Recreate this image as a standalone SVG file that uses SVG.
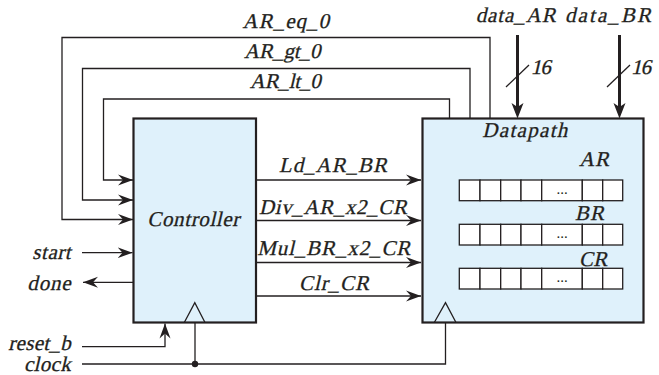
<svg xmlns="http://www.w3.org/2000/svg" width="659" height="375" viewBox="0 0 659 375">
<style>
  text { font-family: "Liberation Serif", "Times New Roman", serif; font-style: normal; font-size: 21px; fill: #231f20; stroke: #231f20; stroke-width: 0.3; }
  .box { fill: #dff1fb; stroke: #231f20; stroke-width: 2.2; }
  .w { fill: none; stroke: #231f20; stroke-width: 1.3; }
  .bus { fill: none; stroke: #231f20; stroke-width: 3; }
  .cell { fill: #ffffff; stroke: #231f20; stroke-width: 1.3; }
  .clk { fill: none; stroke: #231f20; stroke-width: 1.3; }
  .dots { font-size: 15px; stroke-width: 0; }
</style>
<defs>
  <marker id="ah" markerWidth="16" markerHeight="12" refX="15" refY="6" orient="auto" markerUnits="userSpaceOnUse">
    <path d="M0,0.5 L15,6 L0,11.5 L5,6 z" fill="#231f20"/>
  </marker>
</defs>

<g id="connectors">
  <path class="w" d="M490,118.5 V37.5 H62 V219.5 H133" marker-end="url(#ah)"/>
  <path class="w" d="M470,118.5 V68.5 H82.5 V200 H133" marker-end="url(#ah)"/>
  <path class="w" d="M449.5,118.5 V99 H103.5 V180 H133" marker-end="url(#ah)"/>
  <path class="w" d="M256,180 H421" marker-end="url(#ah)"/>
  <path class="w" d="M256,220.5 H421" marker-end="url(#ah)"/>
  <path class="w" d="M256,262.5 H421" marker-end="url(#ah)"/>
  <path class="w" d="M256,296 H421" marker-end="url(#ah)"/>
  <path class="w" d="M82,252.7 H132.5" marker-end="url(#ah)"/>
  <path class="w" d="M133,282.3 H83" marker-end="url(#ah)"/>
  <path class="w" d="M82,346.7 H165 V323.5" marker-end="url(#ah)"/>
  <path class="w" d="M82,364 H445.5 V322.5"/>
  <path class="w" d="M195,364 V322.5"/>
  <circle cx="195" cy="364" r="3.2" fill="#231f20"/>
  <path class="bus" d="M517.5,35 V110"/>
  <path d="M511.5,103 L517.5,118.5 L523.5,103 L517.5,107 z" fill="#231f20"/>
  <path class="bus" d="M619.5,35 V110"/>
  <path d="M613.5,103 L619.5,118.5 L625.5,103 L619.5,107 z" fill="#231f20"/>
  <path class="w" d="M506,87 L529,65"/>
  <path class="w" d="M607,87 L630,65"/>
  <text transform="translate(242.5,28) skewX(-13)" textLength="86.5" lengthAdjust="spacing">AR_eq_0</text>
  <text transform="translate(244,58.3) skewX(-13)" textLength="76.5" lengthAdjust="spacing">AR_gt_0</text>
  <text transform="translate(249.7,88.3) skewX(-13)" textLength="71" lengthAdjust="spacing">AR_lt_0</text>
  <text transform="translate(475.7,21.7) skewX(-13)" textLength="80" lengthAdjust="spacing">data_AR</text>
  <text transform="translate(565,21.7) skewX(-13)" textLength="86" lengthAdjust="spacing">data_BR</text>
  <text transform="translate(530.7,74) skewX(-13)" textLength="20" lengthAdjust="spacing">16</text>
  <text transform="translate(631,74) skewX(-13)" textLength="20" lengthAdjust="spacing">16</text>
  <text transform="translate(279,172) skewX(-13)" textLength="108" lengthAdjust="spacing">Ld_AR_BR</text>
  <text transform="translate(259,213.5) skewX(-13)" textLength="148" lengthAdjust="spacing">Div_AR_x2_CR</text>
  <text transform="translate(257.3,255) skewX(-13)" textLength="153" lengthAdjust="spacing">Mul_BR_x2_CR</text>
  <text transform="translate(299,289.5) skewX(-13)" textLength="70" lengthAdjust="spacing">Clr_CR</text>
  <text transform="translate(32.3,258.5) skewX(-13)" textLength="38.4" lengthAdjust="spacing">start</text>
  <text transform="translate(27.3,289.5) skewX(-13)" textLength="43.4" lengthAdjust="spacing">done</text>
  <text transform="translate(8.3,349.5) skewX(-13)" textLength="62.4" lengthAdjust="spacing">reset_b</text>
  <text transform="translate(24,371) skewX(-13)" textLength="46.7" lengthAdjust="spacing">clock</text>
</g>

<g id="controller">
  <rect class="box" x="133.5" y="118.5" width="122.5" height="204"/>
  <path class="clk" d="M184.3,322.5 L194.8,302.7 L205,322.5"/>
  <text transform="translate(147.3,226) skewX(-13)" textLength="92" lengthAdjust="spacing">Controller</text>
</g>

<g id="datapath">
  <rect class="box" x="422.5" y="118.5" width="221" height="204"/>
  <path class="clk" d="M434.3,322.5 L445.5,302.7 L456,322.5"/>
  <text transform="translate(482.3,137.3) skewX(-13)" textLength="85" lengthAdjust="spacing">Datapath</text>
  <text transform="translate(579,166) skewX(-13)" textLength="30" lengthAdjust="spacing">AR</text>
  <text transform="translate(575,220) skewX(-13)" textLength="29" lengthAdjust="spacing">BR</text>
  <text transform="translate(579,265.7) skewX(-13)" textLength="28.3" lengthAdjust="spacing">CR</text>
  <g id="reg_AR">
    <rect class="cell" x="459.3" y="180" width="20.7" height="20.7"/>
    <rect class="cell" x="480" y="180" width="20.7" height="20.7"/>
    <rect class="cell" x="500.7" y="180" width="20.3" height="20.7"/>
    <rect class="cell" x="521" y="180" width="20.7" height="20.7"/>
    <rect class="cell" x="541.7" y="180" width="40.6" height="20.7"/>
    <rect class="cell" x="582.3" y="180" width="20.4" height="20.7"/>
    <rect class="cell" x="602.7" y="180" width="20" height="20.7"/>
    <text class="dots" x="562" y="194" text-anchor="middle">...</text>
  </g>
  <g id="reg_BR">
    <rect class="cell" x="459.3" y="224.3" width="20.7" height="20.7"/>
    <rect class="cell" x="480" y="224.3" width="20.7" height="20.7"/>
    <rect class="cell" x="500.7" y="224.3" width="20.3" height="20.7"/>
    <rect class="cell" x="521" y="224.3" width="20.7" height="20.7"/>
    <rect class="cell" x="541.7" y="224.3" width="40.6" height="20.7"/>
    <rect class="cell" x="582.3" y="224.3" width="20.4" height="20.7"/>
    <rect class="cell" x="602.7" y="224.3" width="20" height="20.7"/>
    <text class="dots" x="562" y="238.3" text-anchor="middle">...</text>
  </g>
  <g id="reg_CR">
    <rect class="cell" x="459.3" y="268.3" width="20.7" height="20.7"/>
    <rect class="cell" x="480" y="268.3" width="20.7" height="20.7"/>
    <rect class="cell" x="500.7" y="268.3" width="20.3" height="20.7"/>
    <rect class="cell" x="521" y="268.3" width="20.7" height="20.7"/>
    <rect class="cell" x="541.7" y="268.3" width="40.6" height="20.7"/>
    <rect class="cell" x="582.3" y="268.3" width="20.4" height="20.7"/>
    <rect class="cell" x="602.7" y="268.3" width="20" height="20.7"/>
    <text class="dots" x="562" y="282.3" text-anchor="middle">...</text>
  </g>
</g>
</svg>
